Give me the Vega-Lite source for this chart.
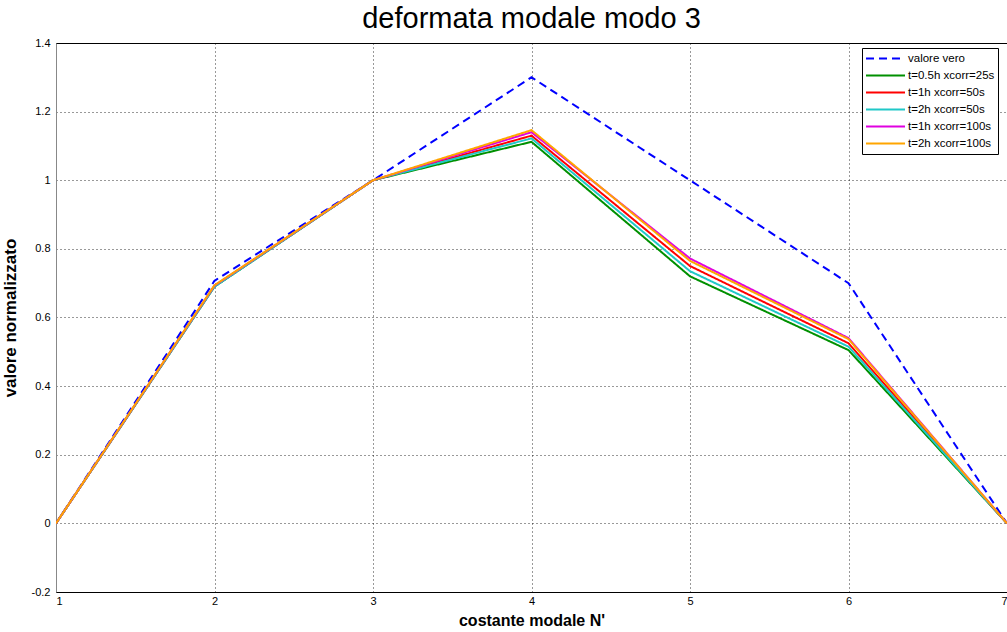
{
  "$schema": "https://vega.github.io/schema/vega-lite/v6.json",
  "width": 951,
  "height": 549,
  "autosize": {"type": "none"},
  "padding": {"left": 56, "top": 43, "right": 0, "bottom": 40},
  "background": "white",
  "title": {
    "text": "deformata modale modo 3",
    "font": "Liberation Sans",
    "fontSize": 29,
    "fontWeight": "normal",
    "color": "#000",
    "anchor": "middle",
    "offset": 3
  },
  "config": {
    "view": {"stroke": "#000", "strokeWidth": 1},
    "font": "Liberation Sans"
  },
  "data": {
    "values": [
      {"serie": "valore vero", "n": 1, "v": 0},
      {"serie": "valore vero", "n": 2, "v": 0.707},
      {"serie": "valore vero", "n": 3, "v": 1.0},
      {"serie": "valore vero", "n": 4, "v": 1.3},
      {"serie": "valore vero", "n": 5, "v": 1.0},
      {"serie": "valore vero", "n": 6, "v": 0.7},
      {"serie": "valore vero", "n": 7, "v": 0},
      {"serie": "t=0.5h xcorr=25s", "n": 1, "v": 0},
      {"serie": "t=0.5h xcorr=25s", "n": 2, "v": 0.69},
      {"serie": "t=0.5h xcorr=25s", "n": 3, "v": 1.0},
      {"serie": "t=0.5h xcorr=25s", "n": 4, "v": 1.112},
      {"serie": "t=0.5h xcorr=25s", "n": 5, "v": 0.72},
      {"serie": "t=0.5h xcorr=25s", "n": 6, "v": 0.505},
      {"serie": "t=0.5h xcorr=25s", "n": 7, "v": 0},
      {"serie": "t=1h xcorr=50s", "n": 1, "v": 0},
      {"serie": "t=1h xcorr=50s", "n": 2, "v": 0.692},
      {"serie": "t=1h xcorr=50s", "n": 3, "v": 1.0},
      {"serie": "t=1h xcorr=50s", "n": 4, "v": 1.13},
      {"serie": "t=1h xcorr=50s", "n": 5, "v": 0.75},
      {"serie": "t=1h xcorr=50s", "n": 6, "v": 0.525},
      {"serie": "t=1h xcorr=50s", "n": 7, "v": 0},
      {"serie": "t=2h xcorr=50s", "n": 1, "v": 0},
      {"serie": "t=2h xcorr=50s", "n": 2, "v": 0.69},
      {"serie": "t=2h xcorr=50s", "n": 3, "v": 1.0},
      {"serie": "t=2h xcorr=50s", "n": 4, "v": 1.122},
      {"serie": "t=2h xcorr=50s", "n": 5, "v": 0.735},
      {"serie": "t=2h xcorr=50s", "n": 6, "v": 0.515},
      {"serie": "t=2h xcorr=50s", "n": 7, "v": 0},
      {"serie": "t=1h xcorr=100s", "n": 1, "v": 0},
      {"serie": "t=1h xcorr=100s", "n": 2, "v": 0.693},
      {"serie": "t=1h xcorr=100s", "n": 3, "v": 1.0},
      {"serie": "t=1h xcorr=100s", "n": 4, "v": 1.14},
      {"serie": "t=1h xcorr=100s", "n": 5, "v": 0.772},
      {"serie": "t=1h xcorr=100s", "n": 6, "v": 0.54},
      {"serie": "t=1h xcorr=100s", "n": 7, "v": 0},
      {"serie": "t=2h xcorr=100s", "n": 1, "v": 0},
      {"serie": "t=2h xcorr=100s", "n": 2, "v": 0.694},
      {"serie": "t=2h xcorr=100s", "n": 3, "v": 1.0},
      {"serie": "t=2h xcorr=100s", "n": 4, "v": 1.146},
      {"serie": "t=2h xcorr=100s", "n": 5, "v": 0.765},
      {"serie": "t=2h xcorr=100s", "n": 6, "v": 0.537},
      {"serie": "t=2h xcorr=100s", "n": 7, "v": 0}
    ]
  },
  "mark": {"type": "line", "strokeWidth": 2, "clip": true},
  "encoding": {
    "x": {
      "field": "n",
      "type": "quantitative",
      "scale": {"domain": [1, 7], "nice": false, "zero": false},
      "axis": {
        "title": "costante modale N'",
        "titleFontSize": 16,
        "titleFontWeight": "bold",
        "titleColor": "#000",
        "titlePadding": 6,
        "values": [1, 2, 3, 4, 5, 6, 7],
        "labelFontSize": 11,
        "labelColor": "#000",
        "labelPadding": 3,
        "ticks": false,
        "domainColor": "#000",
        "grid": true,
        "gridColor": "#000",
        "gridDash": [1, 3],
        "gridOpacity": 0.8
      }
    },
    "y": {
      "field": "v",
      "type": "quantitative",
      "scale": {"domain": [-0.2, 1.4], "nice": false, "zero": false},
      "axis": {
        "title": "valore normalizzato",
        "titleFontSize": 17,
        "titleFontWeight": "bold",
        "titleColor": "#000",
        "titlePadding": 12,
        "values": [-0.2, 0, 0.2, 0.4, 0.6, 0.8, 1, 1.2, 1.4],
        "labelExpr": "replace(format(datum.value, '~g'), '\u2212', '-')",
        "labelFontSize": 11,
        "labelColor": "#000",
        "labelPadding": 6,
        "ticks": false,
        "domainColor": "#888",
        "grid": true,
        "gridColor": "#000",
        "gridDash": [1, 3],
        "gridOpacity": 0.8
      }
    },
    "color": {
      "field": "serie",
      "type": "nominal",
      "sort": null,
      "scale": {
        "domain": ["valore vero", "t=0.5h xcorr=25s", "t=1h xcorr=50s", "t=2h xcorr=50s", "t=1h xcorr=100s", "t=2h xcorr=100s"],
        "range": ["#0000ff", "#009000", "#ff0000", "#20c8c8", "#e000e0", "#ffa500"]
      },
      "legend": {
        "title": null,
        "orient": "none",
        "legendX": 806,
        "legendY": 5,
        "fillColor": "white",
        "strokeColor": "#000",
        "padding": 3,
        "labelFontSize": 11.5,
        "labelColor": "#000",
        "symbolType": "stroke",
        "symbolSize": 1521,
        "symbolStrokeWidth": 2,
        "clipHeight": 15,
        "rowPadding": 2,
        "labelOffset": 2
      }
    },
    "strokeDash": {
      "field": "serie",
      "type": "nominal",
      "sort": null,
      "scale": {
        "domain": ["valore vero", "t=0.5h xcorr=25s", "t=1h xcorr=50s", "t=2h xcorr=50s", "t=1h xcorr=100s", "t=2h xcorr=100s"],
        "range": [[8, 5], [1, 0], [1, 0], [1, 0], [1, 0], [1, 0]]
      },
      "legend": null
    },
    "order": {"field": "n", "type": "quantitative"}
  }
}
